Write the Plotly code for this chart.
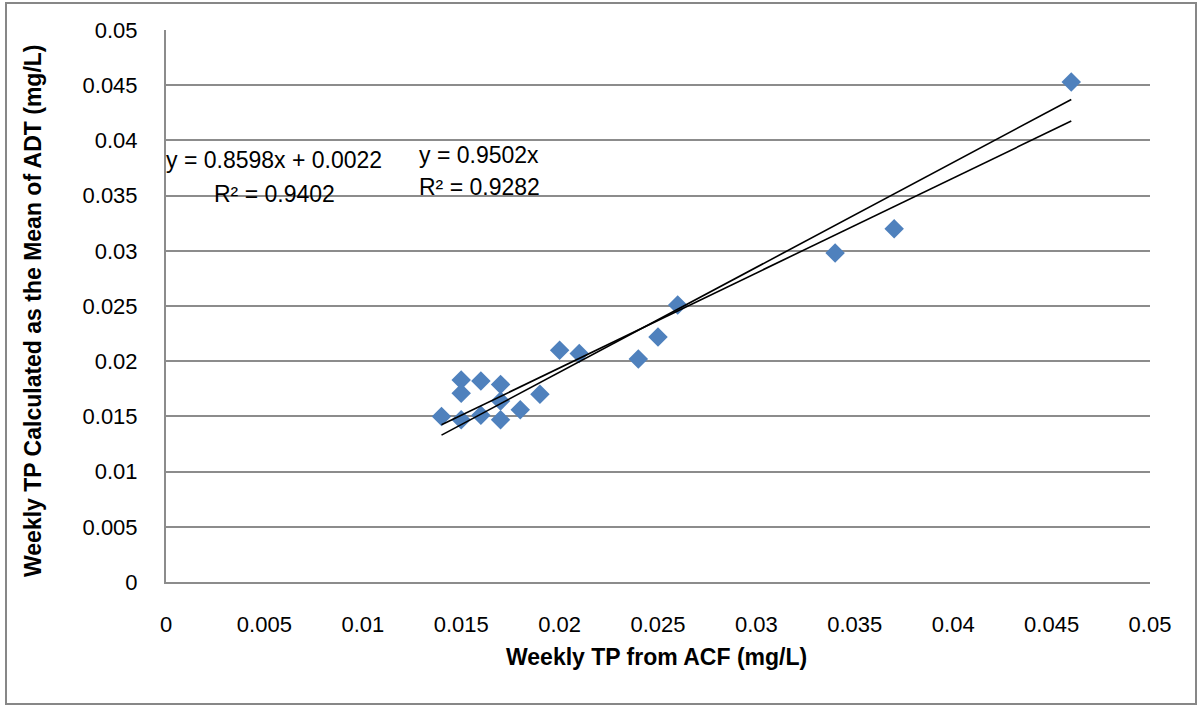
import plotly.graph_objects as go

# Weekly total phosphorus: ACF measurement vs. mean of ADT
tp_acf = [0.014, 0.015, 0.015, 0.015, 0.016, 0.016, 0.017, 0.017, 0.017,
          0.018, 0.019, 0.020, 0.021, 0.024, 0.025, 0.026, 0.034, 0.037, 0.046]
tp_adt = [0.0150, 0.0183, 0.0171, 0.0147, 0.0182, 0.0151, 0.0179, 0.0164, 0.0147,
          0.0156, 0.0170, 0.0210, 0.0207, 0.0202, 0.0222, 0.0251, 0.0298, 0.0320, 0.0453]

# Trendline coefficients
fit_slope, fit_intercept, fit_r2 = 0.8598, 0.0022, 0.9402
origin_slope, origin_r2 = 0.9502, 0.9282

tick_vals = [0, 0.005, 0.01, 0.015, 0.02, 0.025, 0.03, 0.035, 0.04, 0.045, 0.05]
tick_text = ["0", "0.005", "0.01", "0.015", "0.02", "0.025", "0.03", "0.035", "0.04", "0.045", "0.05"]

W, H = 1198, 706
ML, MR, MT, MB = 166, 48, 30, 124
PW, PH = W - ML - MR, H - MT - MB


def px(x):
    return (x - ML) / PW


def py(y):
    return (H - MB - y) / PH


FONT = "Liberation Sans, Arial, sans-serif"
GRID = "#8c8c8c"

x_line = [min(tp_acf), max(tp_acf)]

fig = go.Figure()
fig.add_trace(go.Scatter(
    x=tp_acf, y=tp_adt, mode="markers",
    marker=dict(symbol="diamond", size=15, color="#4F81BD", line=dict(width=0)),
    showlegend=False, hoverinfo="x+y",
))
fig.add_trace(go.Scatter(
    x=x_line, y=[fit_slope * v + fit_intercept for v in x_line], mode="lines",
    line=dict(color="black", width=1.6), showlegend=False,
))
fig.add_trace(go.Scatter(
    x=x_line, y=[origin_slope * v for v in x_line], mode="lines",
    line=dict(color="black", width=1.6), showlegend=False,
))

axis_common = dict(
    range=[0, 0.05], tickvals=tick_vals, ticktext=tick_text,
    tickfont=dict(family=FONT, size=22, color="#000000"),
    showline=True, linecolor=GRID, linewidth=2,
    zeroline=False, ticks="", ticklabelstandoff=22,
)
fig.update_xaxes(**axis_common, showgrid=False)
fig.update_yaxes(**axis_common, showgrid=True, gridcolor=GRID, gridwidth=2)

eq_font = dict(family=FONT, size=23, color="#000000")
annotations = [
    dict(text=f"y = {fit_slope:.4f}x + {fit_intercept:.4f}", x=px(274), y=py(160)),
    dict(text=f"R² = {fit_r2:.4f}", x=px(274), y=py(194)),
    dict(text=f"y = {origin_slope:.4f}x", x=px(479), y=py(155)),
    dict(text=f"R² = {origin_r2:.4f}", x=px(479), y=py(187)),
]
for a in annotations:
    fig.add_annotation(xref="paper", yref="paper", xanchor="center", yanchor="middle",
                       showarrow=False, font=eq_font, **a)

fig.add_annotation(text="<b>Weekly TP from ACF (mg/L)</b>", xref="paper", yref="paper",
                   x=px(656), y=py(657), xanchor="center", yanchor="middle", showarrow=False,
                   font=dict(family=FONT, size=23, color="#000000"))
fig.add_annotation(text="<b>Weekly TP Calculated as the Mean of ADT (mg/L)</b>",
                   xref="paper", yref="paper", x=px(33), y=py(311), textangle=-90,
                   xanchor="center", yanchor="middle", showarrow=False,
                   font=dict(family=FONT, size=23, color="#000000"))

# chart-area border
fig.add_shape(type="rect", xref="paper", yref="paper",
              x0=px(6), x1=px(1196), y0=py(704), y1=py(3),
              line=dict(color="#878787", width=2), layer="below")

fig.update_layout(
    width=W, height=H,
    margin=dict(l=ML, r=MR, t=MT, b=MB),
    paper_bgcolor="white", plot_bgcolor="white",
    showlegend=False,
)

fig.write_html("out.html")
